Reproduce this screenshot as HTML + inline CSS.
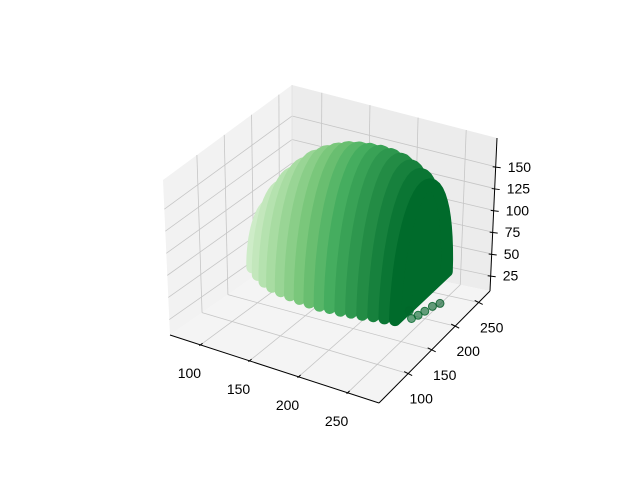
<!DOCTYPE html>
<html><head><meta charset="utf-8"><style>
html,body{margin:0;padding:0;background:#fff;}
svg{display:block;font-family:"Liberation Sans","DejaVu Sans",sans-serif;}
</style></head><body>
<svg id="chart" width="640" height="480" viewBox="0 0 640 480" xmlns="http://www.w3.org/2000/svg">
<g id="panes"></g>
<g id="grid"></g>
<g id="axes"></g>
<g id="marks"></g>
<g id="labels" font-size="14" fill="#000"></g>
</svg>
<script>
// ---- data ----
const sliceX = [95,105,115,125,135,145,155,165,175,185,195,205,215,225,235,245];
const sliceYLo = [150,142,136,132,130,129,129,129,130,131,133,135,138,141,144,146];
const sliceYHi = [210,222,232,240,246,250,253,255,256,257,258,258,258,257,256,254];
const sliceZTop = [100,122,138,150,160,167,172,176,178,179,179,178,175,170,163,154];
const sliceZBase = [45,43,41,40,39,38,37,36,35,35,34,34,33,33,32,32];
const strayX = [248,250,252,255,258,247];
const strayY = [175,185,195,205,215,172];
const strayZ = [20,19,19,20,19,30];
const xTicks = [100,150,200,250];
const yTicks = [100,150,200,250];
const zTicks = [25,50,75,100,125,150];

// ---- projection (trilinear over box corners) ----
const XR=[69,282], YR=[38,274], ZR=[7.5,183];
const C = {
 '000':[170,335],'100':[379,403],'110':[490,291],'010':[292,250],
 '001':[163,180],'101':[385,243],'111':[497,138],'011':[292,85]
};
function proj(x,y,z){
  const fx=(x-XR[0])/(XR[1]-XR[0]), fy=(y-YR[0])/(YR[1]-YR[0]), fz=(z-ZR[0])/(ZR[1]-ZR[0]);
  let px=0,py=0;
  for(const a of [0,1])for(const b of [0,1])for(const c of [0,1]){
    const w=(a?fx:1-fx)*(b?fy:1-fy)*(c?fz:1-fz);
    const p=C[''+a+b+c]; px+=w*p[0]; py+=w*p[1];
  }
  return [px,py];
}
const NS='http://www.w3.org/2000/svg';
function el(tag,parent,attrs){const e=document.createElementNS(NS,tag);for(const k in attrs)e.setAttribute(k,attrs[k]);parent.appendChild(e);return e;}
function pts(arr){return arr.map(p=>p[0].toFixed(1)+','+p[1].toFixed(1)).join(' ');}

const panes=document.getElementById('panes');
const grid=document.getElementById('grid');
const axes=document.getElementById('axes');
const marks=document.getElementById('marks');
const labels=document.getElementById('labels');
const [x0,x1]=XR,[y0,y1]=YR,[z0,z1]=ZR;

let e;
e=el('polygon',panes,{points:pts([proj(x0,y0,z0),proj(x0,y1,z0),proj(x0,y1,z1),proj(x0,y0,z1)]),fill:'#f2f2f2'});


e=el('polygon',panes,{points:pts([proj(x0,y1,z0),proj(x1,y1,z0),proj(x1,y1,z1),proj(x0,y1,z1)]),fill:'#ececec'});


e=el('polygon',panes,{points:pts([proj(x0,y0,z0),proj(x1,y0,z0),proj(x1,y1,z0),proj(x0,y1,z0)]),fill:'#f4f4f4'});



function line(parent,a,b,stroke,w,name){
  const l=el('line',parent,{x1:a[0],y1:a[1],x2:b[0],y2:b[1],stroke:stroke,'stroke-width':w});
  
  
  return l;
}
const GC='#c6c6c6';
xTicks.forEach(t=>{
  line(grid,proj(t,y0,z0),proj(t,y1,z0),GC,0.8,'x-grid-floor');
  line(grid,proj(t,y1,z0),proj(t,y1,z1),GC,0.8,'x-grid-wall');
});
yTicks.forEach(t=>{
  line(grid,proj(x0,t,z0),proj(x1,t,z0),GC,0.8,'y-grid-floor');
  line(grid,proj(x0,t,z0),proj(x0,t,z1),GC,0.8,'y-grid-wall');
});
zTicks.forEach(t=>{
  line(grid,proj(x0,y0,t),proj(x0,y1,t),GC,0.8,'z-grid-left');
  line(grid,proj(x0,y1,t),proj(x1,y1,t),GC,0.8,'z-grid-right');
});
line(grid,proj(x0,y1,z0),proj(x0,y1,z1),'#e0e0e0',0.8,'back-edge');

line(axes,proj(x0,y0,z0),proj(x1,y0,z0),'#000',1,'x-axis-line');
line(axes,proj(x1,y0,z0),proj(x1,y1,z0),'#000',1,'y-axis-line');
line(axes,proj(x1,y1,z0),proj(x1,y1,z1),'#000',1,'z-axis-line');

xTicks.forEach(t=>{
  const a=proj(t,y0,z0), b=proj(t,y0+(y1-y0)*0.03,z0);
  const dx=a[0]-b[0], dy=a[1]-b[1];
  line(axes,[a[0]+dx*0.3,a[1]+dy*0.3],[a[0]-dx*0.6,a[1]-dy*0.6],'#000',1,'x-tick');
  const tx=el('text',labels,{x:(a[0]-11).toFixed(1),y:(a[1]+33).toFixed(1),'text-anchor':'middle'});
  tx.textContent=t;
  
  
});
yTicks.forEach(t=>{
  const a=proj(x1,t,z0);
  line(axes,[a[0]-4,a[1]-2],[a[0]+4,a[1]+2],'#000',1,'y-tick');
  const tx=el('text',labels,{x:(a[0]+13).toFixed(1),y:(a[1]+30).toFixed(1),'text-anchor':'middle'});
  tx.textContent=t;
  
  
});
zTicks.forEach(t=>{
  const a=proj(x1,y1,t);
  line(axes,[a[0]-3,a[1]],[a[0]+5,a[1]+1],'#000',1,'z-tick');
  const tx=el('text',labels,{x:(a[0]+12).toFixed(1),y:(a[1]+5).toFixed(1),'text-anchor':'start'});
  tx.textContent=t;
  
  
});

const GREENS=[[247,252,245],[229,245,224],[199,233,192],[161,217,155],[116,196,118],[65,171,93],[35,139,69],[0,109,44],[0,68,27]];
function greens(v){
  v=Math.max(0,Math.min(1,v))*(GREENS.length-1);
  const i=Math.min(Math.floor(v),GREENS.length-2), f=v-i;
  const c=GREENS[i].map((a,k)=>Math.round(a+(GREENS[i+1][k]-a)*f));
  return 'rgb('+c.join(',')+')';
}
const xmn=Math.min(...sliceX), xmx=Math.max(...sliceX);
function col(x){return greens(0.22+0.66*(x-xmn)/(xmx-xmn));}

sliceX.forEach((x,i)=>{
  const lo=sliceYLo[i], hi=sliceYHi[i], top=sliceZTop[i], base=sliceZBase[i];
  const P=[];
  const N=28;
  for(let k=0;k<=N;k++){
    const t=Math.PI*k/N;
    const y=(lo+hi)/2-Math.cos(t)*(hi-lo)/2;
    const z=base+(top-base)*Math.sin(t);
    P.push(proj(x,y,z));
  }
  const c=col(x);
  const s=el('polygon',marks,{points:pts(P),fill:c,stroke:c,'stroke-width':12,'stroke-linejoin':'round'});
  
  
});
strayX.forEach((x,i)=>{
  const p=proj(x,strayY[i],strayZ[i]);
  const c=el('circle',marks,{cx:p[0].toFixed(1),cy:p[1].toFixed(1),r:4,fill:col(x),'fill-opacity':0.6,stroke:col(x),'stroke-opacity':0.8});
  
  
});
</script>
</body></html>
